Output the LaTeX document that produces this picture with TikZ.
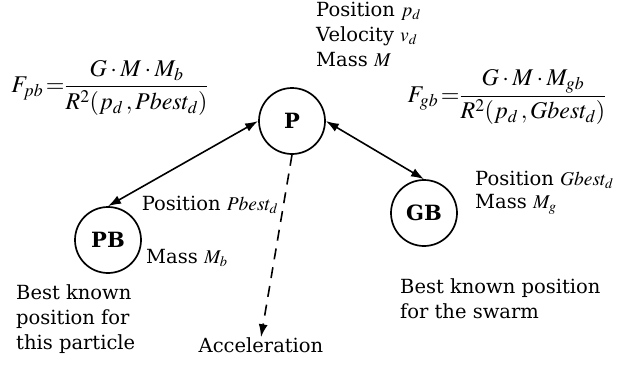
\documentclass[tikz,border=0pt]{standalone}
\usepackage{amsmath}
\usepackage{mathptmx}
\usepackage{fontspec}
\setmainfont{DejaVu Serif}
\usetikzlibrary{positioning, arrows.meta}

\begin{document}
\begin{tikzpicture}[
    x=1pt, y=-1pt,
    font=\fontsize{19.5}{25}\selectfont,
    particle/.style={circle, draw, line width=1.7pt, minimum size=66pt,
                  inner sep=0pt, font=\fontsize{21}{23}\selectfont\bfseries},
    info/.style={align=left, inner sep=0pt},
    force/.style={inner sep=0pt, font=\fontsize{24}{28}\selectfont},
    arr/.style={{Latex[length=13pt, width=9pt]}-{Latex[length=13pt, width=9pt]}, line width=1.6pt},
    accel/.style={-{Latex[length=13pt, width=9pt]}, line width=1.6pt, dash pattern=on 11pt off 8pt}
]
\useasboundingbox (0,0) rectangle (622,365);

% the three bodies
\node[particle] (p) at (292,121) {P};
\node[particle] (pb) at (108,240) {PB};
\node[particle] (gb) at (424,213) {GB};

% their labels
\node[info, anchor=north west] (pinfo) at (316,2)
    {Position $p_d$\\Velocity $v_d$\\Mass $M$};
\node[info] (pbpos) at (210,205) {Position $Pbest_d$};
\node[info, anchor=west] (pbmass) at (146,258) {Mass $M_b$};
\node[info, anchor=north west] (pbnote) at (16,284)
    {Best known\\position for\\this particle};
\node[info, anchor=north west, font=\fontsize{19.5}{23}\selectfont] (gbinfo) at (475,171)
    {Position $Gbest_d$\\Mass $M_g$};
\node[info, anchor=north west] (gbnote) at (400,278)
    {Best known position\\for the swarm};
\node[info] (acc) at (261,345) {Acceleration};

% attraction forces
\node[force] (fpb) at (110,88)
    {$F_{pb}\,{=}\dfrac{G\cdot M\cdot M_b}{R^2(p_d\,,Pbest_d)}$};
\node[force] (fgb) at (507,97)
    {$F_{gb}\,{=}\dfrac{G\cdot M\cdot M_{gb}}{R^2(p_d\,,Gbest_d)}$};

\draw[arr] (pb.north) -- (p.west);
\draw[arr] (p.east) -- (gb.north);
\draw[accel] (p.south) -- (acc.north);
\end{tikzpicture}
\end{document}
